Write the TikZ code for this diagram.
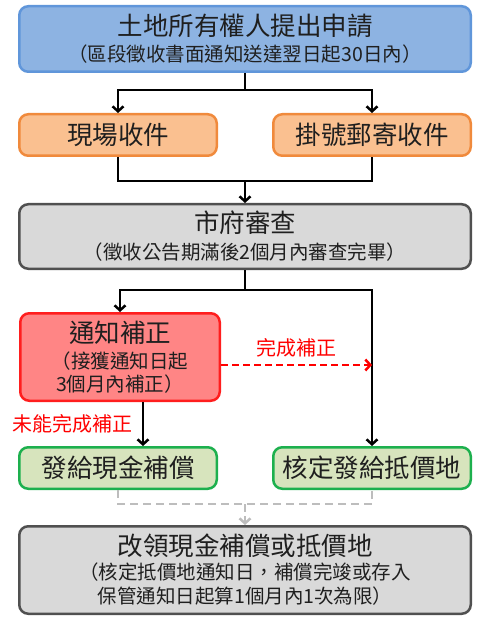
\documentclass[tikz,border=0pt]{standalone}
\usepackage{fontspec}
\setmainfont{Noto Sans CJK TC}
\usetikzlibrary{arrows.meta, positioning}

\newcommand{\headsize}{\fontsize{25.5}{29}\selectfont}
\newcommand{\notesize}{\fontsize{19.5}{26}\selectfont}
\definecolor{bluefill}{HTML}{8DB3E2}
\definecolor{blueline}{HTML}{6096DA}
\definecolor{orangefill}{HTML}{FAC090}
\definecolor{orangeline}{HTML}{F08A3C}
\definecolor{grayfill}{HTML}{D9D9D9}
\definecolor{grayline}{HTML}{505050}
\definecolor{redfill}{HTML}{FF8585}
\definecolor{redline}{HTML}{FF1E1E}
\definecolor{greenfill}{HTML}{D7E4BD}
\definecolor{greenline}{HTML}{1DB04E}
\definecolor{dashgray}{HTML}{BDBDBD}

\begin{document}
\begin{tikzpicture}[
    box/.style={rectangle, draw, rounded corners=9pt, line width=2.5pt, align=center, inner sep=0pt, text=black!88, font=\notesize},
    bluebox/.style={box, fill=bluefill, draw=blueline, minimum width=451.5pt, minimum height=65.5pt},
    orangebox/.style={box, fill=orangefill, draw=orangeline, minimum width=197.5pt, minimum height=41.5pt, font=\headsize},
    graybox/.style={box, fill=grayfill, draw=grayline, minimum width=451.5pt, minimum height=64.5pt},
    redbox/.style={box, fill=redfill, draw=redline, minimum width=199.5pt, minimum height=87.5pt},
    greenbox/.style={box, fill=greenfill, draw=greenline, minimum width=197.5pt, minimum height=41.5pt, font=\headsize},
    link/.style={line width=2.5pt, black},
    arrow/.style={link, -{Straight Barb[length=5pt, width=11pt]}},
    redarrow/.style={line width=2.5pt, red, dash pattern=on 7pt off 4pt, -{Straight Barb[length=5pt, width=11pt]}},
    dashlink/.style={line width=2.5pt, dashgray, dash pattern=on 8pt off 5pt},
    grayarrow/.style={dashlink, dash pattern=on 8pt off 4pt, -{Straight Barb[length=5pt, width=11pt]}},
    redlabel/.style={text=red, font=\fontsize{20}{22}\selectfont, inner sep=0pt},
]
\useasboundingbox (0,0) rectangle (480pt,-620pt);

% Application
\node[bluebox] (apply) at (245pt,-39pt) {{\headsize 土地所有權人提出申請}\\（區段徵收書面通知送達翌日起30日內）};
% Receiving
\node[orangebox, below=40pt of apply.south west, anchor=north west] (onsite) {現場收件};
\node[orangebox, below=40pt of apply.south east, anchor=north east] (mail) {掛號郵寄收件};
% Review
\node[graybox, below=46pt of onsite.south west, anchor=north west] (review) {{\headsize 市府審查}\\[1pt]（徵收公告期滿後2個月內審查完畢）};
% Correction
\node[redbox, below=42pt of review.south west, anchor=north west, xshift=1pt] (notify) {{\headsize 通知補正}\\（接獲通知日起\\[-3pt]3個月內補正）};
% Results
\node[greenbox, below=44pt of notify.south west, anchor=north west, xshift=-1pt] (cash) {發給現金補償};
\node[greenbox, anchor=north east] (land) at (cash.north -| review.east) {核定發給抵價地};
% Change
\node[graybox, below=35pt of cash.south west, anchor=north west, minimum height=87.5pt] (change) {{\headsize 改領現金補償或抵價地}\\[-2pt]（核定抵價地通知日，補償完竣或存入\\[-2pt]保管通知日起算1個月內1次為限）};

% Split after application
\coordinate[below=17pt of apply.south] (split1);
\draw[link] (apply.south) -- (split1);
\draw[arrow] (split1) -| (onsite.north);
\draw[arrow] (split1) -| (mail.north);

% Merge into review
\coordinate[below=24pt of onsite.south] (merge1);
\coordinate (merge2) at (review.north |- merge1);
\draw[link] (onsite.south) -- (merge1) -| (mail.south);
\draw[arrow] (merge2) -- (review.north);

% Split after review
\coordinate[below=20pt of review.south] (split2);
\draw[link] (review.south) -- (split2);
\draw[arrow] (split2) -| (notify.north);
\draw[arrow] (split2) -| (land.north);

% Correction outcomes
\coordinate (done) at ([yshift=-8pt]notify.east);
\draw[redarrow] (done) -- (done -| land.north) node[midway, above=7pt, redlabel] {完成補正};
\coordinate (fail) at ([xshift=23pt]notify.south);
\draw[arrow] (fail) -- (fail |- cash.north) node[midway, left=9pt, redlabel] {未能完成補正};

% Optional change
\coordinate[below=14pt of cash.south] (opt1);
\coordinate (opt2) at (change.north |- opt1);
\draw[dashlink] (cash.south) -- (opt1) -| (land.south);
\draw[grayarrow] (opt2) -- (change.north);
\end{tikzpicture}
\end{document}
